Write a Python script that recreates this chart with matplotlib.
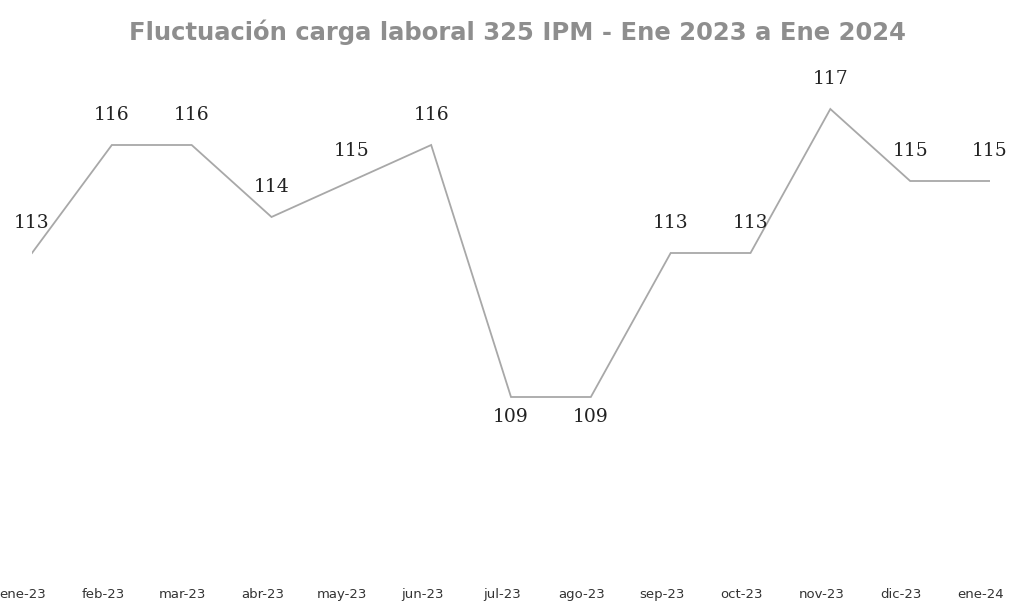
import matplotlib
matplotlib.use("Agg")
import matplotlib.pyplot as plt
from matplotlib.transforms import ScaledTranslation

months = ["ene-23", "feb-23", "mar-23", "abr-23", "may-23", "jun-23", "jul-23",
          "ago-23", "sep-23", "oct-23", "nov-23", "dic-23", "ene-24"]
values = [113, 116, 116, 114, 115, 116, 109, 109, 113, 113, 117, 115, 115]
title = "Fluctuación carga laboral 325 IPM - Ene 2023 a Ene 2024"

W, H = 1018, 606
fig = plt.figure(figsize=(W / 100, H / 100), dpi=100)
fig.patch.set_facecolor("white")
left, right = 32, 990
top, bottom = 75, 555
ax = fig.add_axes([left / W, (H - bottom) / H, (right - left) / W, (bottom - top) / H])
x = list(range(len(months)))
ax.plot(x, values, color="#a8a8a8", lw=1.3, solid_joinstyle="miter")
ax.set_xlim(0, len(months) - 1)
ax.set_ylim(116 - (bottom - 145) / 36.0, 116 + (145 - top) / 36.0)

for i, v in enumerate(values):
    below = v < 110
    dy = -20 if below else 30
    ax.annotate(str(v), (i, v), xytext=(0, dy), textcoords="offset pixels",
                ha="center", va="center", fontsize=13.5, family="DejaVu Serif",
                color="#222222")

ax.set_xticks(x)
ax.set_xticklabels(months, fontsize=9.5, color="#333333")
ax.tick_params(axis="x", length=0, pad=24)
ax.set_yticks([])
for s in ax.spines.values():
    s.set_visible(False)
offset = ScaledTranslation(-9 / 100, 0, fig.dpi_scale_trans)
for lab in ax.get_xticklabels():
    lab.set_transform(lab.get_transform() + offset)

fig.text(517 / W, 1 - 32 / H, title, ha="center", va="center", fontsize=17.5,
         fontweight="bold", color="#8e8e8e")
fig.savefig("out.png", dpi=100)
